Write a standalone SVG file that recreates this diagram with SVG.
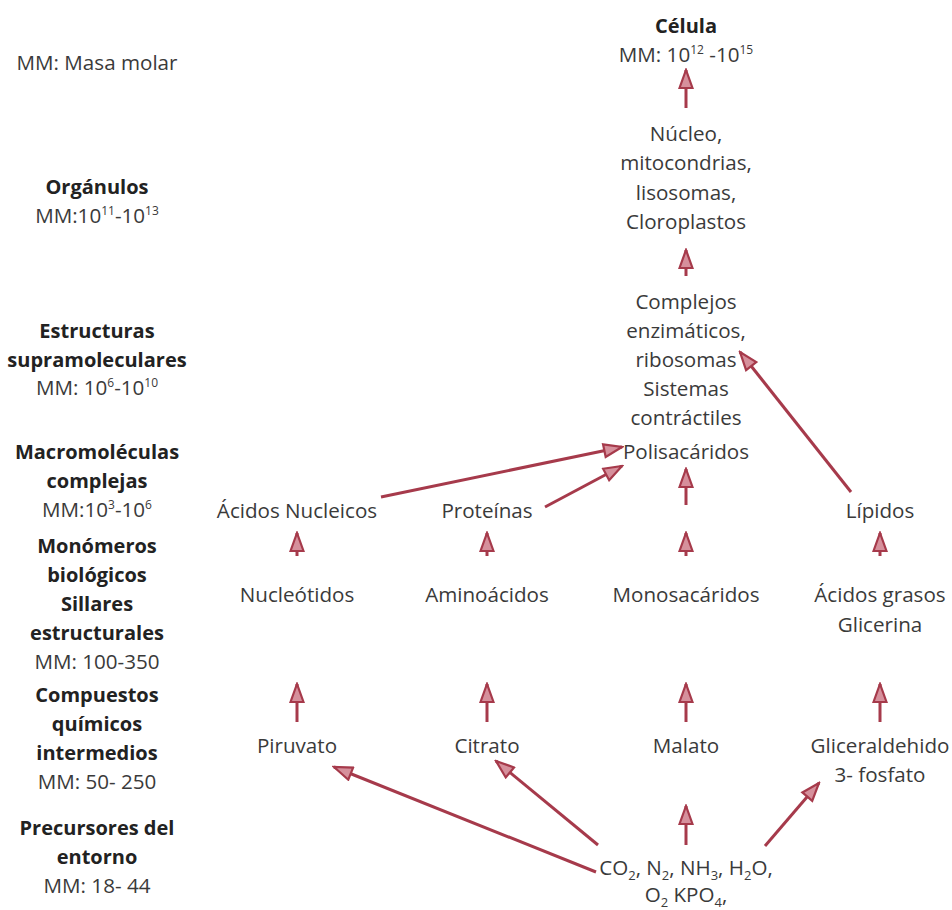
<svg xmlns="http://www.w3.org/2000/svg" width="952" height="910" viewBox="0 0 952 910">
<style>
text{font-family:"Open Sans","Liberation Sans",sans-serif;font-size:20.6px;fill:#3a3a3a;text-anchor:middle}
.b{font-weight:bold;fill:#222;font-size:20px}
.sup{font-size:12px}
.sub{font-size:13px}
.c line{stroke:#a63a4b;stroke-width:3;marker-end:url(#ah)}
</style>
<defs>
<marker id="ah" viewBox="0 0 22 16" refX="20" refY="8" markerWidth="22" markerHeight="16" markerUnits="userSpaceOnUse" orient="auto">
<path d="M2,1.5 L20,8 L2,14.5 Z" fill="#d6909c" stroke="#a63a4b" stroke-width="2.2" stroke-linejoin="miter"/>
</marker>
</defs>
<rect width="952" height="910" fill="#fff"/>

<g id="legend"><text x="97" y="70">MM: Masa molar</text></g>

<g id="lvl-organulos">
<text class="b" x="97" y="194">Orgánulos</text>
<text x="97" y="223">MM:10<tspan class="sup" dy="-8">11</tspan><tspan dy="8">-10</tspan><tspan class="sup" dy="-8">13</tspan></text>
</g>
<g id="lvl-supra">
<text class="b" x="97" y="338">Estructuras</text>
<text class="b" x="97" y="367">supramoleculares</text>
<text x="97" y="395">MM: 10<tspan class="sup" dy="-8">6</tspan><tspan dy="8">-10</tspan><tspan class="sup" dy="-8">10</tspan></text>
</g>
<g id="lvl-macro">
<text class="b" x="97" y="459">Macromoléculas</text>
<text class="b" x="97" y="488">complejas</text>
<text x="97" y="517">MM:10<tspan class="sup" dy="-8">3</tspan><tspan dy="8">-10</tspan><tspan class="sup" dy="-8">6</tspan></text>
</g>
<g id="lvl-monomeros">
<text class="b" x="97" y="553">Monómeros</text>
<text class="b" x="97" y="582">biológicos</text>
<text class="b" x="97" y="611">Sillares</text>
<text class="b" x="97" y="640">estructurales</text>
<text x="97" y="669">MM: 100-350</text>
</g>
<g id="lvl-intermedios">
<text class="b" x="97" y="702">Compuestos</text>
<text class="b" x="97" y="731">químicos</text>
<text class="b" x="97" y="760">intermedios</text>
<text x="97" y="789">MM: 50- 250</text>
</g>
<g id="lvl-precursores">
<text class="b" x="97" y="835">Precursores del</text>
<text class="b" x="97" y="864">entorno</text>
<text x="97" y="893">MM: 18- 44</text>
</g>

<g id="celula">
<text class="b" x="686" y="33">Célula</text>
<text x="686" y="62">MM: 10<tspan class="sup" dy="-8">12</tspan><tspan dy="8"> -10</tspan><tspan class="sup" dy="-8">15</tspan></text>
</g>
<g id="organulos">
<text x="686" y="141">Núcleo,</text>
<text x="686" y="170">mitocondrias,</text>
<text x="686" y="200">lisosomas,</text>
<text x="686" y="229">Cloroplastos</text>
</g>
<g id="supramoleculares">
<text x="686" y="309">Complejos</text>
<text x="686" y="338">enzimáticos,</text>
<text x="686" y="367">ribosomas</text>
<text x="686" y="396">Sistemas</text>
<text x="686" y="425">contráctiles</text>
</g>
<g id="polisacaridos"><text x="686" y="459">Polisacáridos</text></g>
<g id="acidos-nucleicos"><text x="297" y="518">Ácidos Nucleicos</text></g>
<g id="proteinas"><text x="487" y="518">Proteínas</text></g>
<g id="lipidos"><text x="880" y="518">Lípidos</text></g>
<g id="nucleotidos"><text x="297" y="602">Nucleótidos</text></g>
<g id="aminoacidos"><text x="487" y="602">Aminoácidos</text></g>
<g id="monosacaridos"><text x="686" y="602">Monosacáridos</text></g>
<g id="acidos-grasos"><text x="880" y="602">Ácidos grasos</text><text x="880" y="632">Glicerina</text></g>
<g id="piruvato"><text x="297" y="753">Piruvato</text></g>
<g id="citrato"><text x="487" y="753">Citrato</text></g>
<g id="malato"><text x="686" y="753">Malato</text></g>
<g id="gliceraldehido"><text x="880" y="753">Gliceraldehido</text><text x="880" y="782">3- fosfato</text></g>
<g id="precursores">
<text x="686" y="875">CO<tspan class="sub" dy="5">2</tspan><tspan dy="-5">, N</tspan><tspan class="sub" dy="5">2</tspan><tspan dy="-5">, NH</tspan><tspan class="sub" dy="5">3</tspan><tspan dy="-5">, H</tspan><tspan class="sub" dy="5">2</tspan><tspan dy="-5">O,</tspan></text>
<text x="686" y="902">O<tspan class="sub" dy="5">2</tspan><tspan dy="-5"> KPO</tspan><tspan class="sub" dy="5">4</tspan><tspan dy="-5">,</tspan></text>
</g>

<g id="connectors" class="c">
<line x1="686" y1="108" x2="686" y2="70"/>
<line x1="686" y1="276" x2="686" y2="250"/>
<line x1="686" y1="505" x2="686" y2="469"/>
<line x1="381" y1="497" x2="622" y2="447"/>
<line x1="545" y1="507" x2="622" y2="466"/>
<line x1="851" y1="492" x2="740" y2="352"/>
<line x1="297" y1="556" x2="297" y2="533"/>
<line x1="487" y1="556" x2="487" y2="533"/>
<line x1="686" y1="556" x2="686" y2="533"/>
<line x1="880" y1="556" x2="880" y2="533"/>
<line x1="297" y1="722" x2="297" y2="684"/>
<line x1="487" y1="722" x2="487" y2="684"/>
<line x1="686" y1="722" x2="686" y2="684"/>
<line x1="880" y1="722" x2="880" y2="684"/>
<line x1="686" y1="845" x2="686" y2="806"/>
<line x1="596" y1="872" x2="334" y2="767"/>
<line x1="598" y1="845" x2="496" y2="761"/>
<line x1="765" y1="846" x2="819" y2="783"/>
</g>
</svg>
